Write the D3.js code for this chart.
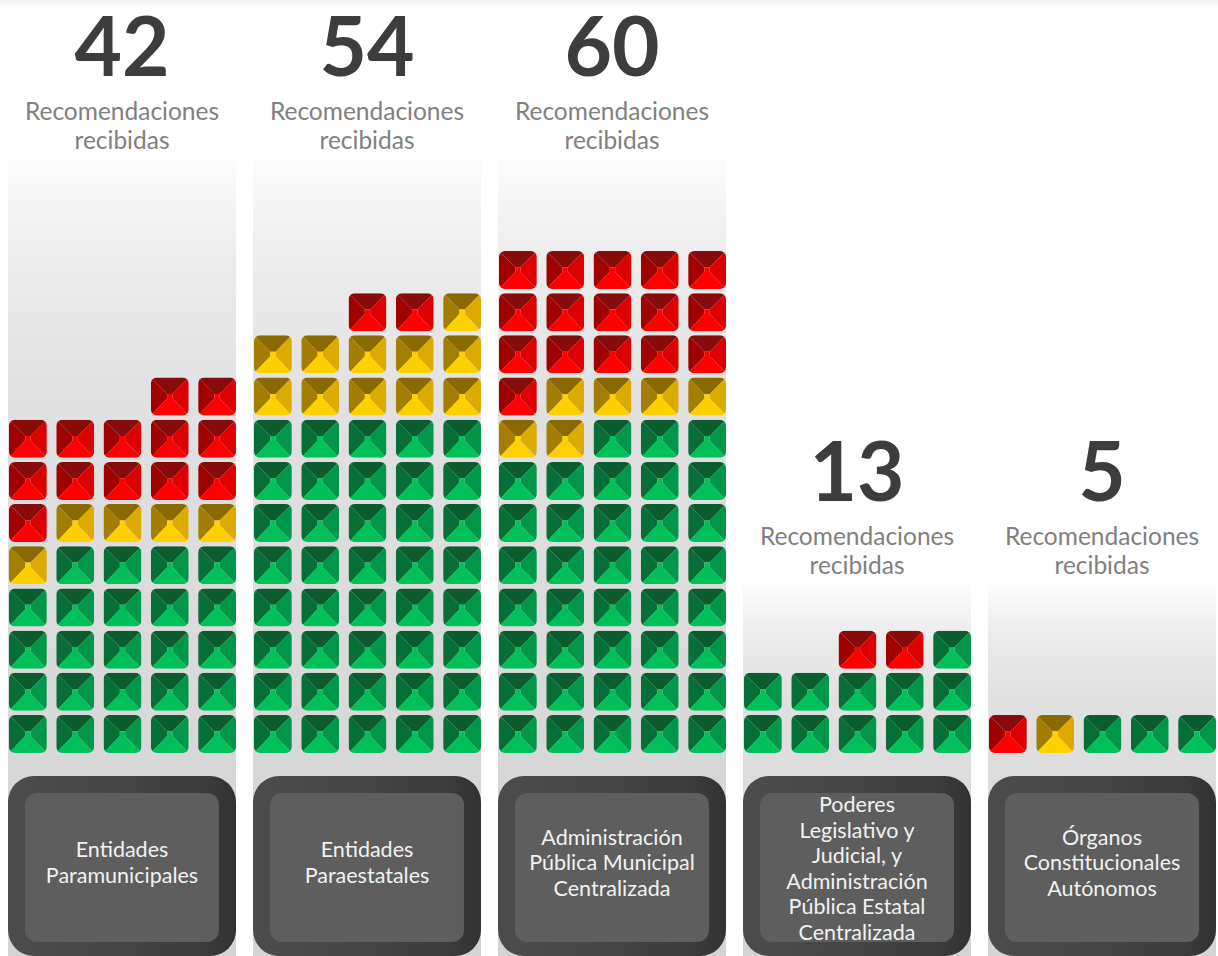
<!DOCTYPE html>
<html>
<head>
<meta charset="utf-8">
<script src="https://cdnjs.cloudflare.com/ajax/libs/d3/7.8.5/d3.min.js"></script>
<style>
  body { margin: 0; background: #ffffff; }
  svg { display: block; }
</style>
</head>
<body>
<div id="chart"></div>
<script>
// Datos
const categorias = [
    "Entidades Paramunicipales",
    "Entidades Paraestatales",
    "Administración Pública Municipal Centralizada",
    "Poderes Legislativo y Judicial, y Administración Pública Estatal Centralizada",
    "Órganos Constitucionales Autónomos"
];
const etiquetas = [
    ["Entidades", "Paramunicipales"],
    ["Entidades", "Paraestatales"],
    ["Administración", "Pública Municipal", "Centralizada"],
    ["Poderes", "Legislativo y", "Judicial, y", "Administración", "Pública Estatal", "Centralizada"],
    ["Órganos", "Constitucionales", "Autónomos"]
];
const totales   = [42, 54, 60, 13, 5];
const verdes    = [24, 40, 38, 11, 3];
const amarillas = [5, 11, 6, 0, 1];
const rojas     = [13, 2, 16, 2, 1];
const subtitulo = ["Recomendaciones", "recibidas"];

const width = 1218, height = 956;
const porFila = 5;

// colores de las caras de cada cuadro: arriba, izquierda, derecha, abajo
const caras = {
    verde:    ["#0b5c2f", "#066f37", "#00974a", "#00c05a"],
    amarillo: ["#8a6a00", "#a37e00", "#dcaa00", "#ffd000"],
    rojo:     ["#870b0b", "#a00000", "#dc0000", "#ff0000"]
};

const svg = d3.select("#chart").append("svg")
    .attr("width", width)
    .attr("height", height);

const defs = svg.append("defs");

const gBand = defs.append("linearGradient")
    .attr("id", "banda").attr("x1", 0).attr("y1", 0).attr("x2", 0).attr("y2", 1);
[[0, "#fcfcfc"], [0.12, "#ededed"], [0.3, "#e1e1e1"], [0.75, "#d7d7d7"], [1, "#d4d4d4"]]
    .forEach(s => gBand.append("stop").attr("offset", s[0]).attr("stop-color", s[1]));

const gBox = defs.append("linearGradient")
    .attr("id", "caja").attr("x1", 0).attr("y1", 0).attr("x2", 1).attr("y2", 0);
[[0, "#4c4c4c"], [0.5, "#454545"], [0.85, "#3b3b3b"], [1, "#323232"]]
    .forEach(s => gBox.append("stop").attr("offset", s[0]).attr("stop-color", s[1]));

const gTop = defs.append("linearGradient")
    .attr("id", "tope").attr("x1", 0).attr("y1", 0).attr("x2", 0).attr("y2", 1);
gTop.append("stop").attr("offset", 0).attr("stop-color", "#f2f2f2");
gTop.append("stop").attr("offset", 1).attr("stop-color", "#ffffff");

svg.append("rect").attr("x", 0).attr("y", 0).attr("width", width).attr("height", 8)
    .attr("fill", "url(#tope)");

// escalas
const x = d3.scaleBand().domain(categorias).range([8, 1216]).paddingInner(0.0694);
const sub = d3.scaleBand().domain(d3.range(porFila)).range([1, x.bandwidth()]).paddingInner(0.2);
const y = d3.scaleLinear().domain([0, 11]).range([715, 251]);
const sqW = sub.bandwidth(), sqH = 38;

defs.append("clipPath").attr("id", "sq")
    .append("rect").attr("width", sqW).attr("height", sqH).attr("rx", 6);

const bandTop = i => i < 3 ? 160 : 585;

// celdas: verde, amarillo, rojo; de derecha a izquierda y de abajo hacia arriba
const celdas = [];
categorias.forEach((c, i) => {
    const tipos = [].concat(
        d3.range(verdes[i]).map(() => "verde"),
        d3.range(amarillas[i]).map(() => "amarillo"),
        d3.range(rojas[i]).map(() => "rojo"));
    tipos.forEach((t, k) => celdas.push({
        cat: c, tipo: t,
        fila: Math.floor(k / porFila),
        pos: porFila - 1 - (k % porFila)
    }));
});

const col = svg.selectAll(".col")
    .data(categorias)
    .enter().append("g")
    .attr("class", "col")
    .attr("transform", d => "translate(" + x(d) + ",0)");

col.append("rect")
    .attr("y", (d, i) => bandTop(i))
    .attr("width", x.bandwidth())
    .attr("height", (d, i) => height - bandTop(i))
    .attr("fill", "url(#banda)");

col.append("text")
    .attr("x", x.bandwidth() / 2)
    .attr("y", (d, i) => bandTop(i) - 84)
    .attr("text-anchor", "middle")
    .style("font-family", "Lato, 'Open Sans', sans-serif")
    .style("font-weight", "bold")
    .style("font-size", "82px")
    .attr("fill", "#3d3d3d")
    .text((d, i) => totales[i]);

subtitulo.forEach((s, j) => {
    col.append("text")
        .attr("x", x.bandwidth() / 2)
        .attr("y", (d, i) => bandTop(i) - 40 + j * 29)
        .attr("text-anchor", "middle")
        .style("font-family", "Lato, 'Open Sans', sans-serif")
        .style("font-size", "24.5px")
        .attr("fill", "#808080")
        .text(s);
});

// caja de la etiqueta
col.append("rect")
    .attr("y", 776)
    .attr("width", x.bandwidth())
    .attr("height", 180)
    .attr("rx", 26)
    .attr("fill", "url(#caja)");

col.append("rect")
    .attr("x", 17)
    .attr("y", 793)
    .attr("width", x.bandwidth() - 34)
    .attr("height", 149)
    .attr("rx", 12)
    .attr("fill", "#5e5e5e");

col.each(function(d, i) {
    const lineas = etiquetas[i];
    const lh = 25.5;
    const y0 = Math.max(812, 867 - (lineas.length - 1) * lh / 2 + 3);
    d3.select(this).selectAll(".etq")
        .data(lineas)
        .enter().append("text")
        .attr("class", "etq")
        .attr("x", x.bandwidth() / 2)
        .attr("y", (l, k) => y0 + k * lh)
        .attr("text-anchor", "middle")
        .style("font-family", "Lato, 'Open Sans', sans-serif")
        .style("font-size", "21.5px")
        .attr("fill", "#f2f2f2")
        .text(l => l);
});

// cuadros
const a = 0.43, b = 0.57, c1 = 0.43, c2 = 0.55;
const facetas = [
    [[0, 0], [1, 0], [b, c1], [a, c1]],
    [[0, 0], [a, c1], [a, c2], [0, 1]],
    [[1, 0], [b, c1], [b, c2], [1, 1]],
    [[a, c1], [b, c1], [b, c2], [1, 1], [0, 1], [a, c2]]
];
const linea = d3.line().x(p => p[0] * sqW).y(p => p[1] * sqH);

const cuadro = svg.selectAll(".cuadro")
    .data(celdas)
    .enter().append("g")
    .attr("class", "cuadro")
    .attr("transform", d => "translate(" + (x(d.cat) + sub(d.pos)) + "," + y(d.fila) + ")")
    .attr("clip-path", "url(#sq)");

facetas.forEach((f, k) => {
    cuadro.append("path")
        .attr("d", linea(f) + "Z")
        .attr("fill", d => caras[d.tipo][k]);
});
</script>
</body>
</html>
